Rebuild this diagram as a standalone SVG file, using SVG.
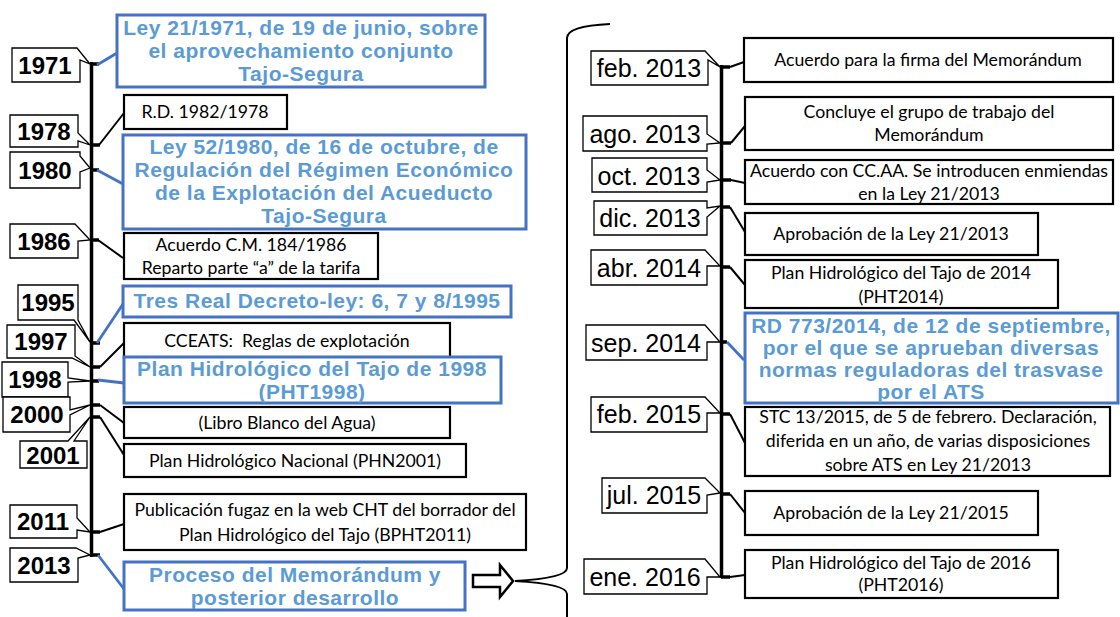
<svg xmlns="http://www.w3.org/2000/svg" width="1120" height="617" viewBox="0 0 1120 617">
<style>
.yl{fill:#fff;stroke:#000;stroke-width:1.3}
.yt{font-family:"Liberation Sans",Arial,sans-serif;font-weight:bold;font-size:24px;text-anchor:middle;fill:#000}
.mt{font-family:"Liberation Sans",Arial,sans-serif;font-size:25px;text-anchor:middle;fill:#000}
.bb{fill:#fff;stroke:#000;stroke-width:2.2}
.blb{fill:#fff;stroke:#4472C4;stroke-width:3}
.bt{font-family:"Liberation Sans",Arial,sans-serif;font-weight:bold;font-size:21px;letter-spacing:0.5px;text-anchor:middle;fill:#5B9BD5}
.nt{font-family:Lato,"Liberation Sans",sans-serif;font-size:17.7px;text-anchor:middle;fill:#000}
.ax{stroke:#000;stroke-width:3.5;fill:none}
.tk{stroke:#000;stroke-width:3.5}
.cb{stroke:#000;stroke-width:2;fill:none}
.cl{stroke:#4472C4;stroke-width:2.8;fill:none}
</style>
<rect width="1120" height="617" fill="#fff"/>
<g id="connectors">
<line class="ax" x1="91.5" y1="62" x2="91.5" y2="557"/>
<line class="tk" x1="91" y1="64" x2="99" y2="64"/>
<line class="tk" x1="91" y1="145" x2="100" y2="145"/>
<line class="tk" x1="91" y1="170" x2="99" y2="170"/>
<line class="tk" x1="91" y1="240" x2="99" y2="240"/>
<line class="tk" x1="91" y1="343" x2="100" y2="343"/>
<line class="tk" x1="91" y1="367" x2="100" y2="367"/>
<line class="tk" x1="91" y1="381" x2="99" y2="381"/>
<line class="tk" x1="91" y1="405" x2="100" y2="405"/>
<line class="tk" x1="91" y1="417" x2="100" y2="417"/>
<line class="tk" x1="91" y1="532" x2="100" y2="532"/>
<line class="tk" x1="91" y1="555" x2="100" y2="555"/>
<line class="cl" x1="97" y1="65" x2="117" y2="53"/>
<line class="cb" x1="99" y1="145" x2="124" y2="113"/>
<line class="cl" x1="97" y1="170" x2="123" y2="184"/>
<line class="cb" x1="98" y1="240" x2="123" y2="258"/>
<line class="cl" x1="97" y1="343" x2="123" y2="304"/>
<line class="cb" x1="100" y1="367" x2="125" y2="342"/>
<line class="cl" x1="98" y1="380" x2="124" y2="383"/>
<line class="cb" x1="100" y1="405" x2="124" y2="423"/>
<line class="cb" x1="100" y1="417" x2="124" y2="455"/>
<line class="cb" x1="100" y1="532" x2="124" y2="524"/>
<line class="cl" x1="98" y1="555" x2="124" y2="589"/>
<line class="ax" x1="721.5" y1="65" x2="721.5" y2="578"/>
<line class="tk" x1="721" y1="67" x2="730" y2="67"/>
<line class="tk" x1="721" y1="143" x2="731" y2="143"/>
<line class="tk" x1="721" y1="180" x2="731" y2="180"/>
<line class="tk" x1="721" y1="207" x2="730" y2="207"/>
<line class="tk" x1="721" y1="267" x2="730" y2="267"/>
<line class="tk" x1="721" y1="342" x2="727" y2="342"/>
<line class="tk" x1="721" y1="414" x2="730" y2="414"/>
<line class="tk" x1="721" y1="494" x2="730" y2="494"/>
<line class="tk" x1="721" y1="577" x2="730" y2="577"/>
<line class="cb" x1="730" y1="67" x2="744" y2="62"/>
<line class="cb" x1="731" y1="143" x2="745" y2="126"/>
<line class="cb" x1="731" y1="180" x2="745" y2="183"/>
<line class="cb" x1="730" y1="207" x2="745" y2="232"/>
<line class="cb" x1="730" y1="267" x2="745" y2="285"/>
<line class="cl" x1="727" y1="342" x2="744" y2="360"/>
<line class="cb" x1="730" y1="414" x2="745" y2="443"/>
<line class="cb" x1="730" y1="494" x2="745" y2="513"/>
<line class="cb" x1="730" y1="577" x2="745" y2="575"/>
<path d="M473,575 H500 V565 L513,581 L500,597 V587 H473 Z" fill="#fff" stroke="#000" stroke-width="2.5"/>
<path d="M610,24 Q567,26 567,38 V568 Q567,578 515,581 Q567,584 567,594 V620" fill="none" stroke="#000" stroke-width="2"/>
</g>
<g id="y1971"><path class="yl" d="M12,48 H77 L90,64 L80,60 V82 H12 Z"/><text class="yt" x="45" y="74">1971</text></g>
<g id="y1978"><path class="yl" d="M10,115 H78 V133 L90,145 L78,141 V147 H10 Z"/><text class="yt" x="44" y="140">1978</text></g>
<g id="y1980"><path class="yl" d="M10,152 H80 V156 L90,168 L80,172 V188 H10 Z"/><text class="yt" x="45" y="179">1980</text></g>
<g id="y1986"><path class="yl" d="M10,224 H75 L90,240 L78,241 V258 H10 Z"/><text class="yt" x="44" y="250">1986</text></g>
<g id="y1995"><path class="yl" d="M18,285 H78 V320 L90,342 L74,320 H18 Z"/><text class="yt" x="48" y="311">1995</text></g>
<g id="y1997"><path class="yl" d="M7,325 H75 V356 L90,367 L72,358 H7 Z"/><text class="yt" x="41" y="350">1997</text></g>
<g id="y1998"><path class="yl" d="M2,362 H68 V378 L90,381 L68,382 V397 H2 Z"/><text class="yt" x="35" y="388">1998</text></g>
<g id="y2000"><path class="yl" d="M3,397 H70 V410 L90,405 L70,415 V432 H3 Z"/><text class="yt" x="37" y="423">2000</text></g>
<g id="y2001"><path class="yl" d="M20,441 H68 L90,417 L74,441 H87 V468 H20 Z"/><text class="yt" x="53" y="464">2001</text></g>
<g id="y2011"><path class="yl" d="M10,505 H77 V518 L90,532 L77,530 V538 H10 Z"/><text class="yt" x="43" y="530">2011</text></g>
<g id="y2013"><path class="yl" d="M10,548 H76 L90,555 L78,558 V582 H10 Z"/><text class="yt" x="44" y="574">2013</text></g>
<g id="n1971"><rect class="blb" x="117" y="15" width="368" height="72"/>
<text class="bt" x="301" y="35">Ley 21/1971, de 19 de junio, sobre</text>
<text class="bt" x="301" y="58">el aprovechamiento conjunto</text>
<text class="bt" x="301" y="81">Tajo-Segura</text></g>
<g id="n1978"><rect class="bb" x="124" y="95" width="163" height="34"/><text class="nt" x="205" y="118">R.D. 1982/1978</text></g>
<g id="n1980"><rect class="blb" x="123" y="135" width="403" height="94"/>
<text class="bt" x="324" y="154">Ley 52/1980, de 16 de octubre, de</text>
<text class="bt" x="324" y="177">Regulación del Régimen Económico</text>
<text class="bt" x="324" y="200">de la Explotación del Acueducto</text>
<text class="bt" x="324" y="223">Tajo-Segura</text></g>
<g id="n1986"><rect class="bb" x="124" y="233" width="254" height="46"/>
<text class="nt" x="251" y="251">Acuerdo C.M. 184/1986</text>
<text class="nt" x="251" y="274">Reparto parte “a” de la tarifa</text></g>
<g id="n1995"><rect class="blb" x="123" y="286" width="388" height="31"/>
<text class="bt" x="317" y="308">Tres Real Decreto-ley: 6, 7 y 8/1995</text></g>
<g id="n1997"><rect class="bb" x="124" y="323" width="326" height="35"/>
<text class="nt" x="287" y="347">CCEATS:&#160; Reglas de explotación</text></g>
<g id="n1998"><rect class="blb" x="124" y="357" width="377" height="46"/>
<text class="bt" x="312" y="376">Plan Hidrológico del Tajo de 1998</text>
<text class="bt" x="312" y="399">(PHT1998)</text></g>
<g id="n2000"><rect class="bb" x="124" y="407" width="326" height="31"/>
<text class="nt" x="287" y="429">(Libro Blanco del Agua)</text></g>
<g id="n2001"><rect class="bb" x="124" y="444" width="342" height="33"/>
<text class="nt" x="295" y="467">Plan Hidrológico Nacional (PHN2001)</text></g>
<g id="n2011"><rect class="bb" x="124" y="494" width="402" height="56"/>
<text class="nt" x="325" y="516">Publicación fugaz en la web CHT del borrador del</text>
<text class="nt" x="325" y="541">Plan Hidrológico del Tajo (BPHT2011)</text></g>
<g id="n2013"><rect class="blb" x="124" y="562" width="341" height="48"/>
<text class="bt" x="295" y="582">Proceso del Memorándum y</text>
<text class="bt" x="295" y="605">posterior desarrollo</text></g>
<g id="mfeb2013"><path class="yl" d="M591,51 H705 L720,67 L708,60 V85 H591 Z"/><text class="mt" x="649" y="77">feb. 2013</text></g>
<g id="mago2013"><path class="yl" d="M583,116 H707 V134 L720,143 L707,144 V151 H583 Z"/><text class="mt" x="645" y="143">ago. 2013</text></g>
<g id="moct2013"><path class="yl" d="M592,158 H707 V170 L720,180 L707,182 V192 H592 Z"/><text class="mt" x="649" y="185">oct. 2013</text></g>
<g id="mdic2013"><path class="yl" d="M594,201 H707 V208 L720,206 L707,217 V235 H594 Z"/><text class="mt" x="650" y="227">dic. 2013</text></g>
<g id="mabr2014"><path class="yl" d="M591,250 H705 L720,266 L707,266 V285 H591 Z"/><text class="mt" x="649" y="277">abr. 2014</text></g>
<g id="msep2014"><path class="yl" d="M586,325 H705 L720,342 L707,342 V360 H586 Z"/><text class="mt" x="646" y="352">sep. 2014</text></g>
<g id="mfeb2015"><path class="yl" d="M591,397 H705 L720,413 L707,413 V432 H591 Z"/><text class="mt" x="649" y="423">feb. 2015</text></g>
<g id="mjul2015"><path class="yl" d="M602,478 H705 L720,493 L707,495 V513 H602 Z"/><text class="mt" x="654" y="504">jul. 2015</text></g>
<g id="mene2016"><path class="yl" d="M584,559 H705 L720,577 L707,577 V594 H584 Z"/><text class="mt" x="645" y="586">ene. 2016</text></g>
<g id="r1"><rect class="bb" x="744" y="38" width="369" height="44"/><text class="nt" x="928" y="66">Acuerdo para la firma del Memorándum</text></g>
<g id="r2"><rect class="bb" x="745" y="97" width="368" height="53"/>
<text class="nt" x="929" y="118">Concluye el grupo de trabajo del</text>
<text class="nt" x="929" y="141">Memorándum</text></g>
<g id="r3"><rect class="bb" x="745" y="160" width="368" height="44"/>
<text class="nt" x="929" y="177">Acuerdo con CC.AA. Se introducen enmiendas</text>
<text class="nt" x="929" y="200">en la Ley 21/2013</text></g>
<g id="r4"><rect class="bb" x="745" y="213" width="293" height="42"/><text class="nt" x="891" y="240">Aprobación de la Ley 21/2013</text></g>
<g id="r5"><rect class="bb" x="745" y="260" width="313" height="48"/>
<text class="nt" x="901" y="279">Plan Hidrológico del Tajo de 2014</text>
<text class="nt" x="901" y="303">(PHT2014)</text></g>
<g id="r6"><rect class="blb" x="745" y="313" width="373" height="90"/>
<text class="bt" x="931" y="333">RD 773/2014, de 12 de septiembre,</text>
<text class="bt" x="931" y="355">por el que se aprueban diversas</text>
<text class="bt" x="931" y="377">normas reguladoras del trasvase</text>
<text class="bt" x="931" y="399">por el ATS</text></g>
<g id="r7"><rect class="bb" x="745" y="407" width="365" height="69"/>
<text class="nt" x="928" y="423">STC 13/2015, de 5 de febrero. Declaración,</text>
<text class="nt" x="928" y="447">diferida en un año, de varias disposiciones</text>
<text class="nt" x="928" y="471">sobre ATS en Ley 21/2013</text></g>
<g id="r8"><rect class="bb" x="745" y="491" width="293" height="44"/><text class="nt" x="891" y="519">Aprobación de la Ley 21/2015</text></g>
<g id="r9"><rect class="bb" x="745" y="550" width="313" height="48"/>
<text class="nt" x="901" y="569">Plan Hidrológico del Tajo de 2016</text>
<text class="nt" x="901" y="591">(PHT2016)</text></g>
</svg>
